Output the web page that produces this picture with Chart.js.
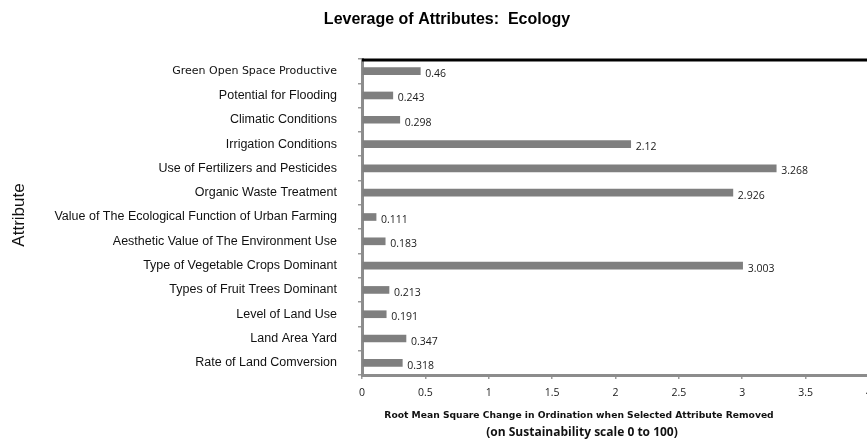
<!DOCTYPE html>
<html>
<head>
<meta charset="utf-8">
<script src="https://cdn.jsdelivr.net/npm/chart.js@4/dist/chart.umd.min.js"></script>
<style>
  html, body { margin: 0; padding: 0; background: #fff; overflow: hidden; width: 867px; height: 448px; }
  #wrap { width: 880px; height: 448px; position: relative; }
</style>
</head>
<body>
<div id="wrap"><canvas id="c" width="880" height="448"></canvas></div>
<script>
// Attributes of the ecology dimension, listed top to bottom
const attributes = [
  "Green Open Space Productive",
  "Potential for Flooding",
  "Climatic Conditions",
  "Irrigation Conditions",
  "Use of Fertilizers and Pesticides",
  "Organic Waste Treatment",
  "Value of The Ecological Function of Urban Farming",
  "Aesthetic Value of The Environment Use",
  "Type of Vegetable Crops Dominant",
  "Types of Fruit Trees Dominant",
  "Level of Land Use",
  "Land Area Yard",
  "Rate of Land Comversion"
];

// Root mean square change when each attribute is removed
const leverage = [0.46, 0.243, 0.298, 2.12, 3.268, 2.926, 0.111, 0.183, 3.003, 0.213, 0.191, 0.347, 0.318];

// Horizontal axis range and step
const xMin = 0;
const xMax = 4;
const xStep = 0.5;

const chartTitle = "Leverage of Attributes:  Ecology";
const yTitle = "Attribute";
const xTitleLines = [
  "Root Mean Square Change in Ordination when Selected Attribute Removed",
  "(on Sustainability scale 0 to 100)"
];

const decorations = {
  id: 'decorations',
  afterDraw(chart) {
    const ctx = chart.ctx;
    const area = chart.chartArea;
    ctx.save();

    // heavy black rule along the top of the plot
    ctx.strokeStyle = '#000';
    ctx.lineWidth = 3;
    ctx.beginPath();
    ctx.moveTo(area.left, area.top + 1);
    ctx.lineTo(area.right, area.top + 1);
    ctx.stroke();

    // value labels at the end of each bar
    const meta = chart.getDatasetMeta(0);
    ctx.fillStyle = '#1a1a1a';
    ctx.font = '10.5px "Open Sans", sans-serif';
    ctx.textAlign = 'left';
    ctx.textBaseline = 'middle';
    meta.data.forEach((bar, i) => {
      ctx.fillText(String(leverage[i]), bar.x + 5, bar.y + 3);
    });

    // chart title
    ctx.fillStyle = '#000';
    ctx.font = 'bold 16px "Liberation Sans", Arial, sans-serif';
    ctx.textAlign = 'center';
    ctx.fillText(chartTitle, 447, 20);

    // vertical axis title
    ctx.save();
    ctx.translate(19, 215);
    ctx.rotate(-Math.PI / 2);
    ctx.font = '17px "Liberation Sans", Arial, sans-serif';
    ctx.fillStyle = '#111';
    ctx.fillText(yTitle, 0, 0);
    ctx.restore();

    // horizontal axis title, two lines
    ctx.fillStyle = '#111';
    ctx.font = 'bold 9.2px "DejaVu Sans", sans-serif';
    ctx.fillText(xTitleLines[0], 579, 416);
    ctx.font = 'bold 12px "Open Sans", sans-serif';
    ctx.fillText(xTitleLines[1], 582, 433);

    ctx.restore();
  }
};

new Chart(document.getElementById('c'), {
  type: 'bar',
  data: {
    labels: attributes,
    datasets: [{
      data: leverage,
      backgroundColor: '#7f7f7f',
      borderWidth: 0,
      barThickness: 7
    }]
  },
  options: {
    indexAxis: 'y',
    responsive: false,
    animation: false,
    layout: { padding: { top: 59, right: 10, left: 0, bottom: 0 } },
    plugins: {
      legend: { display: false },
      tooltip: { enabled: false },
      title: { display: false }
    },
    scales: {
      x: {
        type: 'linear',
        position: 'bottom',
        min: xMin,
        max: xMax,
        ticks: {
          stepSize: xStep,
          color: '#1a1a1a',
          font: { family: '"Open Sans", sans-serif', size: 10.5 },
          padding: 8,
          maxRotation: 0,
          callback: v => String(v)
        },
        grid: { drawOnChartArea: false, tickLength: 4, color: '#9a9a9a', lineWidth: 1.5 },
        border: { color: '#8c8c8c', width: 3 },
        afterFit: s => { s.height = 73; }
      },
      y: {
        type: 'category',
        ticks: {
          color: '#111',
          padding: 21,
          autoSkip: false,
          font: ctx => ctx.index === 0
            ? { family: '"DejaVu Sans", sans-serif', size: 11 }
            : { family: '"Liberation Sans", Arial, sans-serif', size: 12.5 }
        },
        grid: { offset: true, drawOnChartArea: false, tickLength: 4, color: '#9a9a9a', lineWidth: 1.5 },
        border: { color: '#8c8c8c', width: 3 },
        afterFit: s => { s.width = 362; }
      }
    }
  },
  plugins: [decorations]
});
</script>
</body>
</html>
